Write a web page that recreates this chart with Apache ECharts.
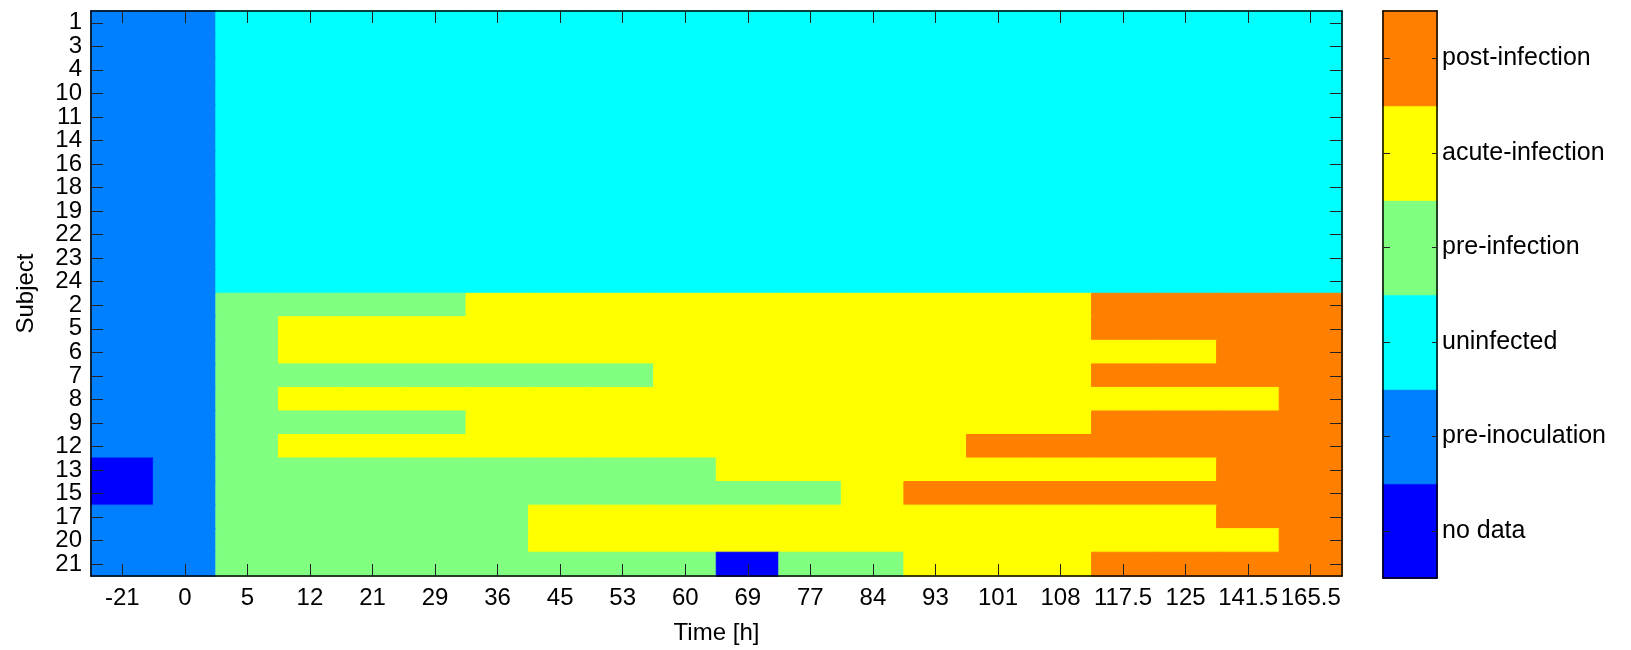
<!DOCTYPE html>
<html><head><meta charset="utf-8">
<script src="https://cdn.jsdelivr.net/npm/echarts@6/dist/echarts.min.js"></script>
<style>html,body{margin:0;padding:0;background:#fff}#c{width:1631px;height:650px}</style>
</head><body><div id="c"></div>
<script>
// ---- data ----
const timeLabels = ['-21','0','5','12','21','29','36','45','53','60','69','77','84','93','101','108','117.5','125','141.5','165.5'];
const subjects = ['1','3','4','10','11','14','16','18','19','22','23','24','2','5','6','7','8','9','12','13','15','17','20','21'];
const stateNames = ['no data','pre-inoculation','uninfected','pre-infection','acute-infection','post-infection'];
// state code per subject (row) per time point (column); codes index stateNames
const states = [
  [1,1,2,2,2,2,2,2,2,2,2,2,2,2,2,2,2,2,2,2], // 1
  [1,1,2,2,2,2,2,2,2,2,2,2,2,2,2,2,2,2,2,2], // 3
  [1,1,2,2,2,2,2,2,2,2,2,2,2,2,2,2,2,2,2,2], // 4
  [1,1,2,2,2,2,2,2,2,2,2,2,2,2,2,2,2,2,2,2], // 10
  [1,1,2,2,2,2,2,2,2,2,2,2,2,2,2,2,2,2,2,2], // 11
  [1,1,2,2,2,2,2,2,2,2,2,2,2,2,2,2,2,2,2,2], // 14
  [1,1,2,2,2,2,2,2,2,2,2,2,2,2,2,2,2,2,2,2], // 16
  [1,1,2,2,2,2,2,2,2,2,2,2,2,2,2,2,2,2,2,2], // 18
  [1,1,2,2,2,2,2,2,2,2,2,2,2,2,2,2,2,2,2,2], // 19
  [1,1,2,2,2,2,2,2,2,2,2,2,2,2,2,2,2,2,2,2], // 22
  [1,1,2,2,2,2,2,2,2,2,2,2,2,2,2,2,2,2,2,2], // 23
  [1,1,2,2,2,2,2,2,2,2,2,2,2,2,2,2,2,2,2,2], // 24
  [1,1,3,3,3,3,4,4,4,4,4,4,4,4,4,4,5,5,5,5], // 2
  [1,1,3,4,4,4,4,4,4,4,4,4,4,4,4,4,5,5,5,5], // 5
  [1,1,3,4,4,4,4,4,4,4,4,4,4,4,4,4,4,4,5,5], // 6
  [1,1,3,3,3,3,3,3,3,4,4,4,4,4,4,4,5,5,5,5], // 7
  [1,1,3,4,4,4,4,4,4,4,4,4,4,4,4,4,4,4,4,5], // 8
  [1,1,3,3,3,3,4,4,4,4,4,4,4,4,4,4,5,5,5,5], // 9
  [1,1,3,4,4,4,4,4,4,4,4,4,4,4,5,5,5,5,5,5], // 12
  [0,1,3,3,3,3,3,3,3,3,4,4,4,4,4,4,4,4,5,5], // 13
  [0,1,3,3,3,3,3,3,3,3,3,3,4,5,5,5,5,5,5,5], // 15
  [1,1,3,3,3,3,3,4,4,4,4,4,4,4,4,4,4,4,5,5], // 17
  [1,1,3,3,3,3,3,4,4,4,4,4,4,4,4,4,4,4,4,5], // 20
  [1,1,3,3,3,3,3,3,3,3,0,3,3,4,4,4,5,5,5,5]  // 21
];

// ---- style ----
const stateColors = ['#0000FF','#0080FF','#00FFFF','#80FF80','#FFFF00','#FF8000'];
const FONT = '"Liberation Sans", Arial, sans-serif';

const cell = (x, y, v) => ({value:[x, y, v], itemStyle:{color:stateColors[v], borderColor:stateColors[v], borderWidth:1}});
const cells = [];
states.forEach((row, yi) => row.forEach((v, xi) => cells.push(cell(xi, yi, v))));
const barCells = stateNames.map((n, i) => cell(0, i, i));

const lineStyle = {color:'#000', width:1.5};
const tickStyle = {color:'#222', width:1};

const chart = echarts.init(document.getElementById('c'), null, {renderer:'canvas'});
chart.setOption({
  animation:false,
  textStyle:{fontFamily:FONT},
  grid:[
    {left:91, top:11, width:1251, height:566},
    {left:1383, top:11, width:54, height:567}
  ],
  xAxis:[
    {gridIndex:0, type:'category', data:timeLabels, position:'bottom', z:10,
     axisLine:{show:true, lineStyle:lineStyle},
     axisTick:{show:true, inside:true, length:12, alignWithLabel:true, lineStyle:tickStyle},
     axisLabel:{interval:0, fontSize:24, color:'#000', margin:10, fontFamily:FONT},
     splitLine:{show:false},
     name:'Time [h]', nameLocation:'middle', nameGap:45,
     nameTextStyle:{fontSize:24, color:'#000', fontFamily:FONT}},
    {gridIndex:0, type:'category', data:timeLabels, position:'top', z:10,
     axisLine:{show:true, lineStyle:lineStyle},
     axisTick:{show:true, inside:true, length:12, alignWithLabel:true, lineStyle:tickStyle},
     axisLabel:{show:false}, splitLine:{show:false}},
    {gridIndex:1, type:'category', data:[''], position:'bottom', z:10,
     axisLine:{show:true, lineStyle:lineStyle}, axisTick:{show:false}, axisLabel:{show:false}},
    {gridIndex:1, type:'category', data:[''], position:'top', z:10,
     axisLine:{show:true, lineStyle:lineStyle}, axisTick:{show:false}, axisLabel:{show:false}}
  ],
  yAxis:[
    {gridIndex:0, type:'category', data:subjects, inverse:true, position:'left', z:10,
     axisLine:{show:true, lineStyle:lineStyle},
     axisTick:{show:true, inside:true, length:12, alignWithLabel:true, lineStyle:tickStyle},
     axisLabel:{interval:0, fontSize:24, color:'#000', margin:9, fontFamily:FONT},
     splitLine:{show:false},
     name:'Subject', nameLocation:'middle', nameGap:53, nameRotate:90,
     nameTextStyle:{fontSize:24, color:'#000', fontFamily:FONT}},
    {gridIndex:0, type:'category', data:subjects, inverse:true, position:'right', z:10,
     axisLine:{show:true, lineStyle:lineStyle},
     axisTick:{show:true, inside:true, length:12, alignWithLabel:true, lineStyle:tickStyle},
     axisLabel:{show:false}, splitLine:{show:false}},
    {gridIndex:1, type:'category', data:stateNames, position:'right', z:10,
     axisLine:{show:true, lineStyle:lineStyle},
     axisTick:{show:true, inside:true, length:5, alignWithLabel:true, lineStyle:tickStyle},
     axisLabel:{interval:0, fontSize:25, color:'#000', margin:5, fontFamily:FONT},
     splitLine:{show:false}},
    {gridIndex:1, type:'category', data:stateNames, position:'left', z:10,
     axisLine:{show:true, lineStyle:lineStyle},
     axisTick:{show:true, inside:true, length:7, alignWithLabel:true, lineStyle:tickStyle},
     axisLabel:{show:false}, splitLine:{show:false}}
  ],
  series:[
    {type:'heatmap', xAxisIndex:0, yAxisIndex:0, data:cells, progressive:0},
    {type:'heatmap', xAxisIndex:2, yAxisIndex:2, data:barCells, progressive:0}
  ]
});
</script>
</body></html>
